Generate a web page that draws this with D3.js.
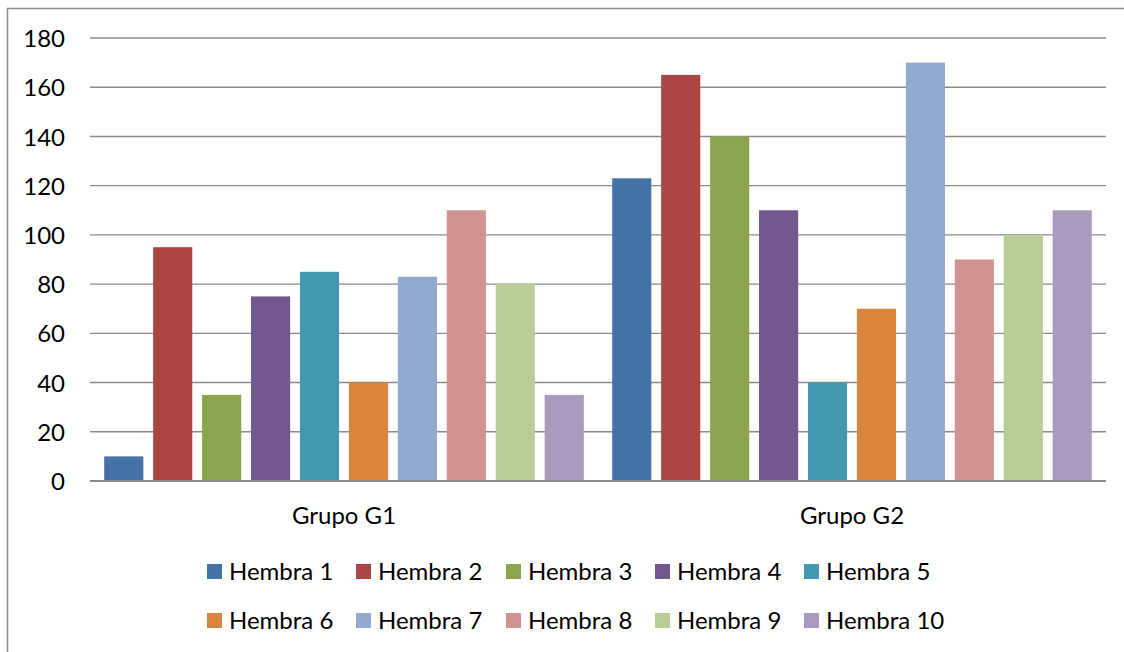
<!DOCTYPE html>
<html>
<head>
<meta charset="utf-8">
<script src="https://cdn.jsdelivr.net/npm/d3@7"></script>
<style>
  html, body { margin: 0; padding: 0; background: #fff; }
  svg { display: block; }
  text { font-family: Lato, "Open Sans", "Liberation Sans", sans-serif; fill: #000; }
</style>
</head>
<body>
<svg id="chart" width="1124" height="652"></svg>
<script>
const groups = ["Grupo G1", "Grupo G2"];
const seriesNames = ["Hembra 1", "Hembra 2", "Hembra 3", "Hembra 4", "Hembra 5",
                     "Hembra 6", "Hembra 7", "Hembra 8", "Hembra 9", "Hembra 10"];
const g1Values = [10, 95, 35, 75, 85, 40, 83, 110, 80, 35];
const g2Values = [123, 165, 140, 110, 40, 70, 170, 90, 100, 110];
const yTicks = [0, 20, 40, 60, 80, 100, 120, 140, 160, 180];
const colors = ["#4572A7", "#AA4643", "#89A54E", "#71588F", "#4198AF",
                "#DB843D", "#93A9CF", "#D19392", "#B9CD96", "#A99BBD"];

const valuesByGroup = [g1Values, g2Values];

const svg = d3.select("#chart");
const plotLeft = 90, plotRight = 1106, plotTop = 38, plotBottom = 481;
const fontSize = 24;

// outer frame (only top and left visible)
svg.append("path")
  .attr("d", "M7.5,660 L7.5,8.5 L1130,8.5")
  .attr("fill", "none")
  .attr("stroke", "#8c8c8c")
  .attr("stroke-width", 1.5);

const x0 = d3.scaleBand().domain(groups).range([plotLeft, plotRight]).padding(0);
const x1 = d3.scaleBand().domain(seriesNames).range([0, x0.bandwidth()])
  .paddingInner(0.2).paddingOuter(0.29);
const y = d3.scaleLinear().domain([0, 180]).range([plotBottom, plotTop]);

// gridlines
svg.append("g").selectAll("line")
  .data(yTicks.filter(d => d > 0))
  .join("line")
  .attr("x1", plotLeft).attr("x2", plotRight)
  .attr("y1", d => y(d)).attr("y2", d => y(d))
  .attr("stroke", "#8a8a8a")
  .attr("stroke-width", 1.4);

// y axis labels
const yAxis = d3.axisLeft(y).tickValues(yTicks).tickSize(0).tickPadding(0);
const yg = svg.append("g").attr("transform", `translate(${65},0)`).call(yAxis);
yg.select(".domain").remove();
yg.selectAll("text")
  .attr("font-size", fontSize)
  .attr("font-family", "Lato, 'Open Sans', sans-serif")
  .attr("fill", "#000")
  .attr("dy", "0.36em");

// bars
const gBars = svg.append("g").selectAll("g")
  .data(groups.map((g, i) => ({ group: g, values: valuesByGroup[i] })))
  .join("g")
  .attr("transform", d => `translate(${x0(d.group)},0)`);

gBars.selectAll("rect")
  .data(d => d.values.map((v, i) => ({ name: seriesNames[i], value: v, color: colors[i] })))
  .join("rect")
  .attr("x", d => x1(d.name))
  .attr("width", x1.bandwidth())
  .attr("y", d => y(d.value))
  .attr("height", d => y(0) - y(d.value))
  .attr("fill", d => d.color);

// x axis baseline
svg.append("line")
  .attr("x1", plotLeft).attr("x2", plotRight)
  .attr("y1", plotBottom).attr("y2", plotBottom)
  .attr("stroke", "#8a8a8a")
  .attr("stroke-width", 2);

// x axis labels
const xAxis = d3.axisBottom(x0).tickSize(0).tickPadding(0);
const xg = svg.append("g").attr("transform", `translate(0,${plotBottom})`).call(xAxis);
xg.select(".domain").remove();
xg.selectAll("text")
  .attr("font-size", fontSize)
  .attr("font-family", "Lato, 'Open Sans', sans-serif")
  .attr("fill", "#000")
  .attr("y", 43)
  .attr("dy", 0);

// legend
const legendX = [207, 356, 506, 655, 804];
const legendY = [564, 613];
const legend = svg.append("g").selectAll("g")
  .data(seriesNames.map((n, i) => ({ name: n, color: colors[i], col: i % 5, row: Math.floor(i / 5) })))
  .join("g")
  .attr("transform", d => `translate(${legendX[d.col]},${legendY[d.row]})`);
legend.append("rect")
  .attr("width", 15).attr("height", 15)
  .attr("fill", d => d.color);
legend.append("text")
  .attr("x", 22).attr("y", 16)
  .attr("font-size", fontSize)
  .text(d => d.name);
</script>
</body>
</html>
